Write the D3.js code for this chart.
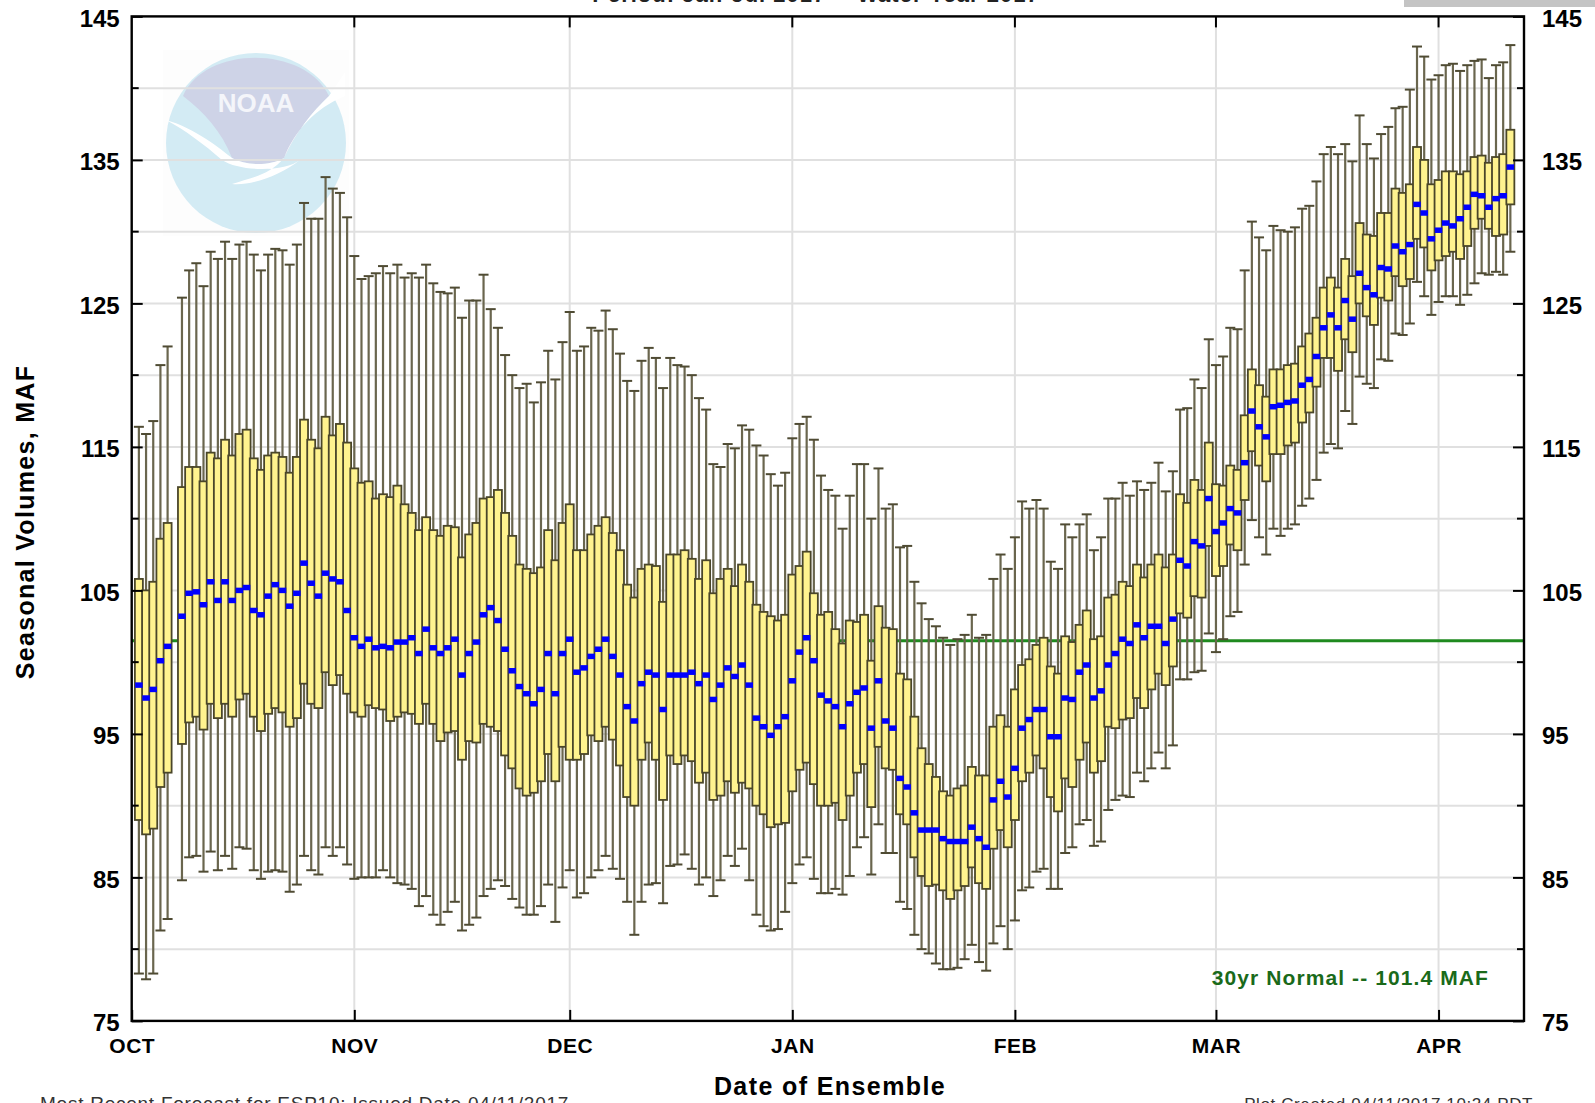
<!DOCTYPE html>
<html>
<head>
<meta charset="utf-8">
<script src="https://d3js.org/d3.v7.min.js"></script>
<style>
html, body { margin: 0; padding: 0; background: #fff; overflow: hidden; }
text { font-family: "Liberation Sans", Arial, sans-serif; }
</style>
</head>
<body>
<div id="chart"></div>
<script>
// days since Oct 1 where an ensemble was issued (no run on day 6)
var days = d3.range(1, 193).filter(function(d) { return d != 6; });

var monthNames = ["OCT", "NOV", "DEC", "JAN", "FEB", "MAR", "APR"];
var monthDays = [0, 31, 61, 92, 123, 151, 182];
var labelTicks = [75, 85, 95, 105, 115, 125, 135, 145];
var gridTicks = [80, 85, 90, 95, 100, 105, 110, 115, 120, 125, 130, 135, 140];
var normal = 101.5;

var hi = [116.4,115.9,116.8,120.7,122.0,125.4,127.3,127.8,126.2,128.6,128.1,129.3,128.1,129.1,129.3,128.4,127.3,128.4,128.8,128.7,127.7,129.1,132.0,130.9,130.9,133.8,133.0,132.7,131.0,128.3,126.7,
126.9,127.1,127.6,127.1,127.7,126.8,127.1,126.8,127.7,126.4,125.8,125.7,126.1,124.0,125.2,125.2,127.0,124.6,123.3,121.4,120.0,119.1,119.4,118.1,119.5,121.7,119.7,122.3,124.4,
121.7,122.0,123.3,123.1,124.5,123.2,121.5,119.6,118.9,121.0,121.9,121.2,119.1,121.2,120.7,120.6,120.0,118.4,117.6,113.8,113.6,115.2,114.9,116.5,116.2,115.1,114.4,113.1,112.3,113.2,
115.6,116.6,117.1,115.5,113.0,112.0,111.6,109.3,111.6,113.8,113.8,110.0,113.5,110.7,111.0,108.0,108.1,105.6,104.1,103.0,102.5,101.7,101.2,101.6,101.9,103.3,101.7,101.9,105.8,107.5,106.5,
108.7,111.2,110.7,111.3,110.7,107.0,106.5,109.6,108.7,109.6,110.3,107.8,108.7,111.4,111.4,112.5,111.6,112.6,112.0,112.5,113.9,111.9,113.3,117.6,117.7,119.7,119.1,122.5,120.7,
121.3,123.3,123.2,127.3,130.7,129.6,128.7,130.4,130.1,130.0,130.3,131.6,131.8,133.5,135.4,135.9,135.4,136.1,134.9,138.1,136.1,135.1,136.8,137.3,138.6,138.7,139.9,142.9,142.2,140.6,
140.9,141.6,141.7,141.2,141.6,141.9,142.0,140.7,141.6,141.8,143.0];

var q3 = [105.8,105.0,105.6,108.6,109.7,112.2,113.6,113.6,112.6,114.6,114.2,115.5,114.4,115.9,116.2,114.2,113.4,114.4,114.6,114.3,113.2,114.3,116.9,115.5,114.9,117.1,115.8,116.6,115.3,113.5,112.5,
112.6,111.4,111.7,111.5,112.3,111.0,110.4,109.2,110.1,109.2,108.8,109.5,109.4,107.3,108.9,109.7,111.4,111.5,112.0,110.4,108.8,106.8,106.5,106.2,106.6,109.2,107.1,109.7,111.0,
107.8,107.8,108.9,109.5,110.1,109.0,107.8,105.4,104.5,106.5,106.8,106.7,104.2,107.5,107.5,107.8,107.2,105.8,107.1,104.8,105.8,106.5,105.3,106.8,105.6,104.0,103.5,103.2,102.9,103.3,
106.1,106.7,107.7,104.8,103.3,103.5,102.3,101.3,102.9,102.8,103.3,100.1,103.9,102.4,102.3,99.2,98.8,96.2,94.0,92.9,92.0,91.0,90.7,91.2,91.4,92.7,92.1,92.1,95.5,96.3,95.5,
98.1,99.8,100.2,101.2,101.7,99.7,99.2,101.8,101.4,102.6,103.6,101.6,101.8,104.5,104.7,105.6,105.3,106.8,105.9,106.8,107.5,106.6,107.5,111.7,111.1,112.7,112.0,115.3,112.4,
112.3,113.7,113.4,117.2,120.4,119.3,118.5,120.4,120.4,120.7,120.8,122.0,122.9,124.0,126.1,126.8,126.1,128.1,126.9,130.6,129.8,129.7,131.3,131.3,133.0,132.7,133.3,135.9,135.0,133.3,
133.6,134.2,134.2,134.0,134.2,135.2,135.3,134.8,135.2,135.4,137.1];

var med = [98.4,97.5,98.1,100.1,101.1,103.2,104.8,104.9,104.0,105.6,104.3,105.6,104.3,105.0,105.2,103.6,103.3,104.6,105.4,105.0,103.9,104.8,106.9,105.5,104.6,106.2,105.8,105.6,103.6,101.7,101.1,
101.6,101.0,101.1,101.0,101.4,101.4,101.7,100.6,102.3,101.0,100.6,101.0,101.6,99.1,100.6,101.4,103.3,103.8,102.9,100.9,99.4,98.3,97.8,97.1,98.1,100.6,97.8,100.6,101.6,
99.3,99.6,100.4,100.9,101.6,100.4,99.1,96.9,95.9,98.5,99.3,99.1,96.7,99.1,99.1,99.1,99.3,98.5,99.1,97.4,98.4,99.6,99.0,99.8,98.4,96.1,95.5,94.9,95.5,96.2,
98.7,100.7,101.7,100.1,97.7,97.3,96.9,95.5,97.1,97.9,98.2,95.4,98.7,95.9,95.4,91.9,91.3,89.5,88.3,88.3,88.3,87.7,87.5,87.5,87.5,88.5,87.7,87.1,90.4,91.7,90.6,
92.6,95.4,96.0,96.7,96.7,94.8,94.8,97.5,97.4,99.3,99.8,97.5,98.0,99.8,100.6,101.6,101.3,102.6,101.7,102.5,102.5,101.3,103.0,107.1,106.7,108.4,108.1,111.4,109.1,
109.7,110.7,110.4,113.9,117.5,116.4,115.7,117.8,117.9,118.1,118.2,119.3,119.7,121.3,123.3,124.2,123.3,125.2,123.9,127.1,126.1,125.6,127.5,127.4,129.0,128.6,129.1,131.9,131.3,129.5,
130.1,130.6,130.4,130.9,131.7,132.6,132.5,131.7,132.3,132.5,134.5];

var q1 = [89.0,88.0,88.4,91.3,92.3,94.3,95.8,96.2,95.3,97.1,96.1,97.1,96.2,97.4,97.8,96.2,95.2,96.4,96.8,96.5,95.5,96.1,98.5,97.1,96.8,99.3,98.4,99.1,97.8,96.5,96.2,
97.0,96.8,96.7,95.9,96.2,96.5,96.4,95.7,97.1,95.7,94.5,95.1,95.2,93.2,94.5,94.4,95.7,95.5,95.2,93.5,92.6,91.2,90.7,90.9,91.7,93.6,91.7,94.1,93.2,
93.2,93.6,94.9,94.5,95.5,94.6,92.8,90.6,90.0,93.2,94.4,93.2,90.4,93.5,92.9,93.5,93.1,91.6,92.3,90.4,90.7,91.7,90.9,91.6,91.2,90.0,89.4,88.5,88.7,88.8,
91.0,92.5,93.0,91.5,90.0,90.0,90.2,89.0,90.7,92.3,92.9,89.9,94.1,92.6,92.5,89.4,88.7,86.4,85.1,84.4,84.5,84.1,83.5,84.1,84.4,85.7,84.6,84.2,87.0,88.3,87.1,
89.0,91.7,92.3,93.5,92.6,90.6,89.6,91.9,91.3,93.2,94.4,92.3,93.1,95.5,95.4,96.0,96.1,97.5,96.8,98.1,99.2,98.4,99.7,103.4,103.1,104.6,104.5,108.1,106.0,
106.7,108.2,107.8,111.3,114.7,113.7,112.6,114.5,114.5,115.1,115.3,116.7,117.4,119.2,121.2,121.2,120.3,122.5,121.6,125.0,124.1,123.5,125.4,125.2,126.9,126.2,126.7,129.5,128.9,127.3,
128.0,128.3,128.6,128.1,129.0,130.2,130.9,130.2,129.7,129.8,131.9];

var lo = [78.3,77.9,78.3,81.3,82.1,84.8,86.4,86.5,85.4,86.8,85.5,86.5,85.6,87.1,87.0,85.5,84.9,85.4,85.5,85.4,84.0,84.5,86.5,85.5,85.2,87.1,86.5,87.1,85.9,84.9,85.0,
85.0,85.0,85.5,85.0,84.6,84.5,84.2,83.0,83.7,82.4,81.7,82.6,83.3,81.3,81.7,82.2,83.7,84.2,84.8,84.4,83.5,82.9,82.4,82.4,83.0,84.5,81.9,84.3,85.5,
83.6,83.9,85.0,85.5,86.5,85.6,84.9,83.3,81.0,83.3,84.5,84.6,83.2,85.8,85.9,86.6,85.6,84.5,85.0,83.7,84.8,86.5,85.8,87.0,84.8,82.4,81.6,81.3,81.4,82.6,
84.6,85.9,86.4,84.9,83.9,83.9,84.2,83.8,85.1,87.1,87.8,85.2,88.7,86.7,86.7,83.3,82.8,81.0,80.0,79.7,79.0,78.6,78.6,78.7,79.3,80.3,79.1,78.5,80.4,81.6,80.0,
82.0,84.1,84.3,85.4,85.6,84.2,84.2,86.7,87.1,88.7,89.0,87.2,87.5,89.7,90.4,90.7,90.6,92.3,91.7,92.6,93.7,92.6,94.2,98.8,98.8,99.3,99.4,102.0,100.7,
101.6,103.2,103.5,106.8,109.9,108.7,107.5,109.3,108.8,109.3,109.6,110.9,111.4,112.7,114.6,115.2,114.9,117.5,116.6,119.9,119.4,119.1,121.1,121.0,122.9,122.8,123.6,126.5,125.5,124.2,
125.1,125.5,125.5,124.9,125.6,126.4,127.1,127.0,127.2,127.0,128.6];

var svgWidth = 1595, svgHeight = 1103;
var plotL = 131.7, plotR = 1524, plotT = 16.4, plotB = 1020.9;
var boxW = 8, capW = 10, medW = 7.5;

var rows = days.map(function(d, i) {
	return {day: d, hi: hi[i], q3: q3[i], med: med[i], q1: q1[i], lo: lo[i]};
});

var x = d3.scaleLinear().domain([0, 193.9]).range([plotL, plotR]);
var y = d3.scaleLinear().domain([75, 145]).range([plotB, plotT]);

var svg = d3.select("#chart").append("svg")
	.attr("width", svgWidth).attr("height", svgHeight)
	.style("display", "block");

svg.append("rect").attr("width", svgWidth).attr("height", svgHeight).attr("fill", "#fff");

// grey strip in the top corner and the cut off title
svg.append("rect").attr("x", 1404).attr("y", 0).attr("width", 191).attr("height", 7).attr("fill", "#c4c4c4");
svg.append("text").attr("x", 816).attr("y", 2).attr("text-anchor", "middle")
	.attr("font-size", 22).attr("font-weight", "bold").attr("letter-spacing", 1).attr("fill", "#222")
	.text("Period: Jan-Jul 2017 -- Water Year 2017");

// NOAA logo, washed out behind the plot
var logo = svg.append("g");
logo.append("rect").attr("x", 163).attr("y", 50).attr("width", 186).attr("height", 186).attr("fill", "#fdfdfd");
logo.append("circle").attr("cx", 256).attr("cy", 143).attr("r", 90).attr("fill", "#d3ebf4");
logo.append("path").attr("d", "M183 96 C205 45 305 45 329 96 C312 112 296 132 284 158 C270 166 246 166 232 158 C222 132 204 112 183 96 Z").attr("fill", "#ced3e7");
logo.append("path").attr("d", "M166 120 C195 128 222 150 232 158 C246 166 270 166 284 158 C294 132 315 108 345 96 L345 72 L329 96 C312 112 296 132 284 158 C270 175 250 178 232 184 C250 186 280 176 300 160 C285 172 240 172 222 160 C205 145 185 130 166 120 Z").attr("fill", "#ffffff");
logo.append("text").attr("x", 256).attr("y", 112).attr("text-anchor", "middle")
	.attr("font-size", 26).attr("font-weight", "bold").attr("fill", "#f4f5fa").text("NOAA");

// grid
svg.selectAll(".hgrid").data(gridTicks).enter().append("line")
	.attr("x1", plotL).attr("x2", plotR)
	.attr("y1", function(d) { return y(d); }).attr("y2", function(d) { return y(d); })
	.attr("stroke", "#e0e0e0").attr("stroke-width", 2);
svg.selectAll(".vgrid").data(monthDays.slice(1)).enter().append("line")
	.attr("x1", function(d) { return x(d); }).attr("x2", function(d) { return x(d); })
	.attr("y1", plotT).attr("y2", plotB)
	.attr("stroke", "#e0e0e0").attr("stroke-width", 2);

// 30 year normal
svg.append("line").attr("x1", plotL).attr("x2", plotR)
	.attr("y1", y(normal)).attr("y2", y(normal))
	.attr("stroke", "#1f8a1f").attr("stroke-width", 3);

// whiskers
var bars = svg.append("g");
bars.selectAll(".whisker").data(rows).enter().append("line")
	.attr("x1", function(d) { return x(d.day); }).attr("x2", function(d) { return x(d.day); })
	.attr("y1", function(d) { return y(d.hi); }).attr("y2", function(d) { return y(d.lo); })
	.attr("stroke", "#6a664e").attr("stroke-width", 2.2);
["hi", "lo"].forEach(function(key) {
	bars.selectAll(".cap-" + key).data(rows).enter().append("line")
		.attr("x1", function(d) { return x(d.day) - capW / 2; })
		.attr("x2", function(d) { return x(d.day) + capW / 2; })
		.attr("y1", function(d) { return y(d[key]); }).attr("y2", function(d) { return y(d[key]); })
		.attr("stroke", "#4f4b33").attr("stroke-width", 2);
});

// boxes
bars.selectAll(".box").data(rows).enter().append("rect")
	.attr("x", function(d) { return x(d.day) - boxW / 2; })
	.attr("width", boxW)
	.attr("y", function(d) { return y(d.q3); })
	.attr("height", function(d) { return y(d.q1) - y(d.q3); })
	.attr("fill", "#fff38f").attr("stroke", "#4a4629").attr("stroke-width", 1.8);

// medians
bars.selectAll(".median").data(rows).enter().append("rect")
	.attr("x", function(d) { return x(d.day) - medW / 2; })
	.attr("width", medW)
	.attr("y", function(d) { return y(d.med) - 2.75; })
	.attr("height", 5.5)
	.attr("fill", "#0000ff");

// frame and ticks
svg.append("rect").attr("x", plotL).attr("y", plotT)
	.attr("width", plotR - plotL).attr("height", plotB - plotT)
	.attr("fill", "none").attr("stroke", "#000").attr("stroke-width", 2.4);

var leftAxis = d3.axisLeft(y).tickValues(labelTicks).tickSize(-11).tickPadding(12).tickFormat(d3.format("d"));
var rightAxis = d3.axisRight(y).tickValues(labelTicks).tickSize(-11).tickPadding(18).tickFormat(d3.format("d"));
[[leftAxis, plotL], [rightAxis, plotR]].forEach(function(a) {
	var g = svg.append("g").attr("transform", "translate(" + a[1] + ",0)").call(a[0]);
	g.select(".domain").remove();
	g.selectAll("line").attr("stroke", "#000").attr("stroke-width", 2);
	g.selectAll("text").attr("font-size", 24).attr("font-weight", "bold").attr("fill", "#000")
		.attr("font-family", "Liberation Sans").attr("dy", "0.42em");
});
[plotL, plotR].forEach(function(px, k) {
	svg.selectAll(".minor" + k).data(gridTicks.filter(function(d) { return d % 10 == 0; })).enter().append("line")
		.attr("x1", px).attr("x2", px + (k ? -7 : 7))
		.attr("y1", function(d) { return y(d); }).attr("y2", function(d) { return y(d); })
		.attr("stroke", "#000").attr("stroke-width", 2);
});

var monthLabel = d3.scaleOrdinal().domain(monthDays).range(monthNames);
var bottomAxis = d3.axisBottom(x).tickValues(monthDays).tickSize(-11).tickPadding(17).tickFormat(monthLabel);
var bg = svg.append("g").attr("transform", "translate(0," + plotB + ")").call(bottomAxis);
bg.select(".domain").remove();
bg.selectAll("line").attr("stroke", "#000").attr("stroke-width", 2);
bg.selectAll("text").attr("font-size", 21).attr("font-weight", "bold").attr("fill", "#000")
	.attr("font-family", "Liberation Sans").attr("letter-spacing", 0.5);
svg.selectAll(".topTick").data(monthDays.slice(1)).enter().append("line")
	.attr("x1", function(d) { return x(d); }).attr("x2", function(d) { return x(d); })
	.attr("y1", plotT).attr("y2", plotT + 11)
	.attr("stroke", "#000").attr("stroke-width", 2);

// titles and notes
svg.append("text").attr("x", 830).attr("y", 1095).attr("text-anchor", "middle")
	.attr("font-size", 25).attr("letter-spacing", 1.4).attr("font-weight", "bold").text("Date of Ensemble");
svg.append("text").attr("transform", "translate(34,522) rotate(-90)").attr("text-anchor", "middle")
	.attr("font-size", 25).attr("letter-spacing", 1.3).attr("font-weight", "bold").text("Seasonal Volumes, MAF");
svg.append("text").attr("x", 1489).attr("y", 985).attr("text-anchor", "end")
	.attr("font-size", 21).attr("letter-spacing", 1.1).attr("font-weight", "bold").attr("fill", "#1a6a1a").text("30yr Normal -- 101.4 MAF");
svg.append("text").attr("x", 40).attr("y", 1110).attr("font-size", 19).attr("letter-spacing", 0.75).attr("fill", "#333")
	.text("Most Recent Forecast for ESP10: Issued Date 04/11/2017");
svg.append("text").attr("x", 1533).attr("y", 1110).attr("text-anchor", "end").attr("font-size", 17).attr("letter-spacing", 0.6).attr("fill", "#333")
	.text("Plot Created 04/11/2017 10:24 PDT");
</script>
</body>
</html>
